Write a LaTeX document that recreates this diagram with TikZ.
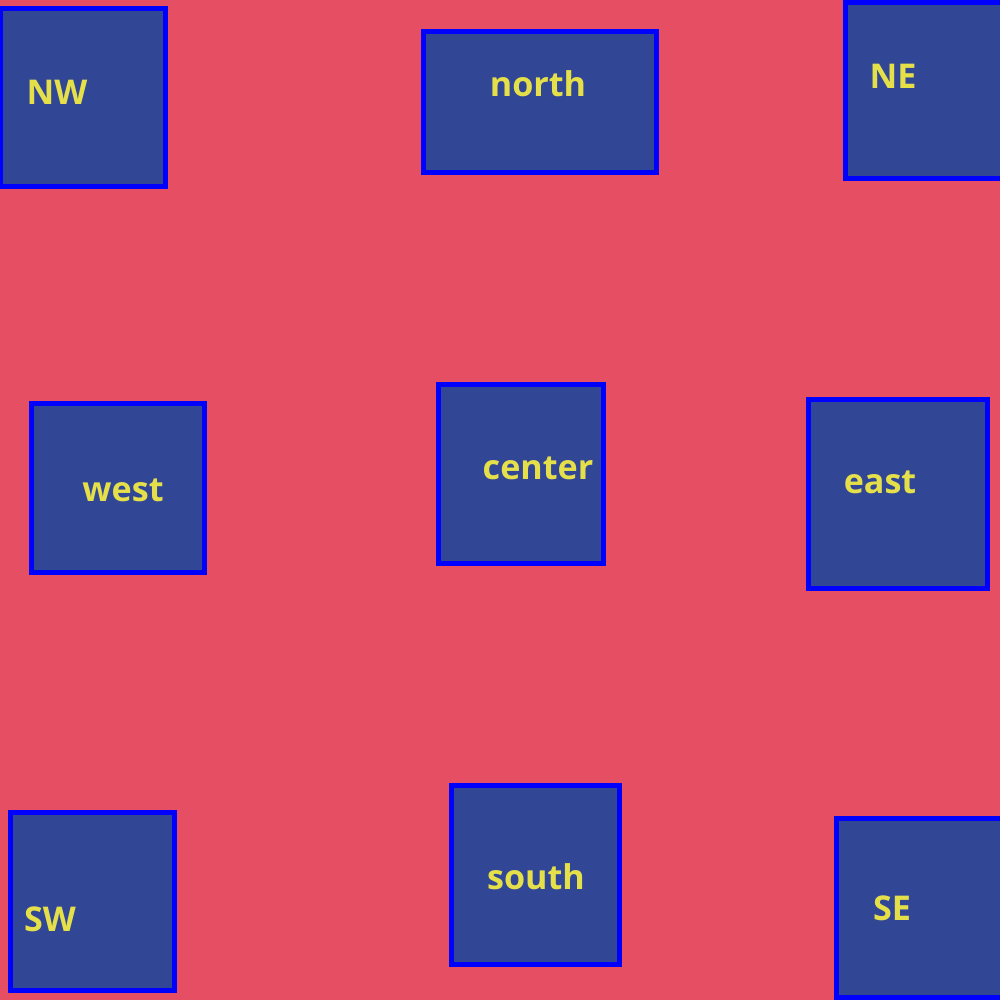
\documentclass[tikz,border=0pt]{standalone}
\usepackage{fontspec}
\setmainfont{Open Sans}
\definecolor{bgred}{HTML}{E54E63}
\definecolor{boxfill}{HTML}{324696}
\definecolor{boxline}{HTML}{0000FF}
\definecolor{txt}{HTML}{E5E04A}
\begin{document}
\begin{tikzpicture}[x=0.01cm,y=-0.01cm,
  box/.style={draw=boxline,fill=boxfill,line width=0.05cm,inner sep=0pt,outer sep=0pt,rectangle},
  lbl/.style={text=txt,font=\fontsize{9.7pt}{12pt}\selectfont\bfseries,anchor=base,inner sep=0pt}]
\fill[bgred] (0,0) rectangle (1000,1000);
\useasboundingbox (0,0) rectangle (1000,1000);
\node[box,minimum width=1.64cm,minimum height=1.775cm] (nwbox) at (83,97.25) {};
\node[box,minimum width=2.33cm,minimum height=1.41cm] (northbox) at (540,102) {};
\node[box,minimum width=1.64cm,minimum height=1.76cm] (nebox) at (928,90.5) {};
\node[box,minimum width=1.73cm,minimum height=1.69cm] (westbox) at (118,488) {};
\node[box,minimum width=1.64cm,minimum height=1.785cm] (centerbox) at (521,473.75) {};
\node[box,minimum width=1.79cm,minimum height=1.89cm] (eastbox) at (898,494) {};
\node[box,minimum width=1.64cm,minimum height=1.78cm] (swbox) at (92.5,901.5) {};
\node[box,minimum width=1.68cm,minimum height=1.79cm] (southbox) at (535.5,875) {};
\node[box,minimum width=1.735cm,minimum height=1.79cm] (sebox) at (923.25,908) {};
\node[lbl] (nw) at (57,104) {NW};
\node[lbl] (north) at (538,97) {north};
\node[lbl] (ne) at (893,88) {NE};
\node[lbl] (west) at (123,501) {west};
\node[lbl] (center) at (538,479) {center};
\node[lbl] (east) at (880,493) {east};
\node[lbl] (sw) at (50,931) {SW};
\node[lbl] (south) at (536,889) {south};
\node[lbl] (se) at (892,920) {SE};
\end{tikzpicture}
\end{document}
